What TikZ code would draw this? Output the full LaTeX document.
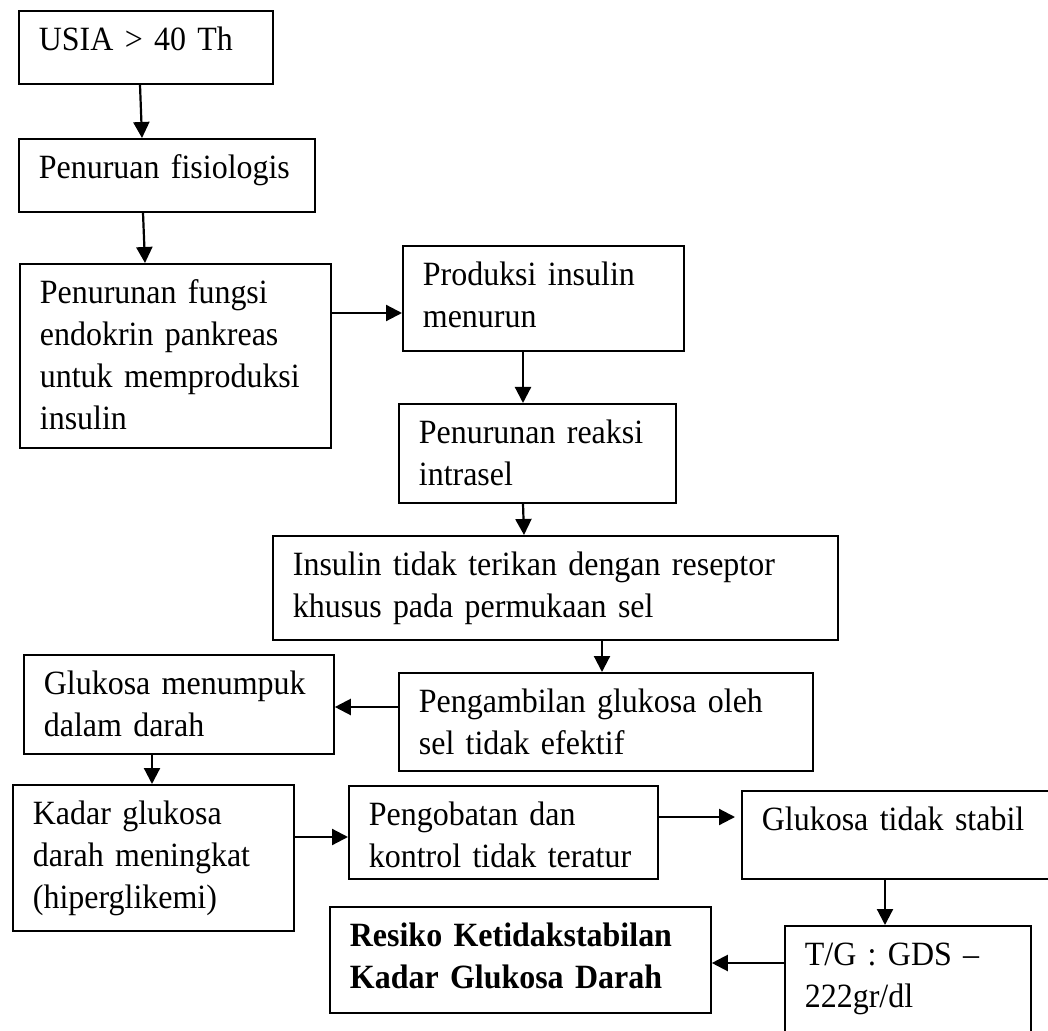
\documentclass[tikz,border=0pt]{standalone}
\usepackage{fontspec}
\setmainfont{Liberation Serif}[FakeStretch=0.94, WordSpace=0.8]
\usetikzlibrary{arrows.meta}

\begin{document}
\begin{tikzpicture}[
  x=0.5pt, y=-0.5pt,
  kotak/.style={rectangle, draw=black, line width=0.9pt, anchor=north west,
                align=left, inner xsep=10pt, inner ysep=0pt,
                text height=20pt, font=\fontsize{17}{21}\selectfont},
  panah/.style={-{Triangle[length=8pt, width=8pt]}, line width=1.1pt}
]
\useasboundingbox (0,0) rectangle (1048,1031);
\clip (0,0) rectangle (1048,1031);

% Boxes
\node[kotak, text width=107pt, text depth=16.5pt] (usia) at (18,10) {USIA > 40 Th};
\node[kotak, text width=128pt, text depth=16.5pt] (fisio) at (18,138) {Penuruan fisiologis};
\node[kotak, text width=135.5pt, text depth=72pt] (fungsi) at (19,263)
  {Penurunan fungsi\\endokrin pankreas\\untuk memproduksi\\insulin};
\node[kotak, text width=120.5pt, text depth=32.5pt] (produksi) at (402,245)
  {Produksi insulin\\menurun};
\node[kotak, text width=118.5pt, text depth=29.5pt] (reaksi) at (398,403)
  {Penurunan reaksi\\intrasel};
\node[kotak, text width=262.5pt, text depth=32pt] (insulin) at (272,535)
  {Insulin tidak terikan dengan reseptor\\khusus pada permukaan sel};
\node[kotak, text width=135pt, text depth=29.5pt] (menumpuk) at (23,654)
  {Glukosa menumpuk\\dalam darah};
\node[kotak, text width=187pt, text depth=29pt] (ambil) at (398,672)
  {Pengambilan glukosa oleh\\sel tidak efektif};
\node[kotak, text width=120.5pt, text depth=53pt] (kadar) at (12,784)
  {Kadar glukosa\\darah meningkat\\(hiperglikemi)};
\node[kotak, text width=134.5pt, text depth=26.5pt] (obat) at (348,785)
  {Pengobatan dan\\kontrol tidak teratur};
\node[kotak, text width=145pt, text depth=24pt] (stabil) at (741,790) {Glukosa tidak stabil};
\node[kotak, text width=170.5pt, text depth=33pt, font=\fontsize{17}{21}\selectfont\bfseries]
  (resiko) at (329,906) {Resiko Ketidakstabilan\\Kadar Glukosa Darah};
\node[kotak, text width=103pt, text depth=60pt] (tg) at (784,925) {T/G : GDS --\\222gr/dl};

% Arrows
\draw[panah] ([xshift=61pt]usia.south west) -- ([xshift=62pt]fisio.north west);
\draw[panah] ([xshift=62.5pt]fisio.south west) -- ([xshift=63pt]fungsi.north west);
\draw[panah] ([yshift=-25pt]fungsi.north east) -- ([yshift=-34pt]produksi.north west);
\draw[panah] ([xshift=60.5pt]produksi.south west) -- ([xshift=62.5pt]reaksi.north west);
\draw[panah] ([xshift=62.5pt]reaksi.south west) -- ([xshift=126pt]insulin.north west);
\draw[panah] ([xshift=165pt]insulin.south west) -- ([xshift=102pt]ambil.north west);
\draw[panah] ([yshift=-17.5pt]ambil.north west) -- ([yshift=-26.5pt]menumpuk.north east);
\draw[panah] ([xshift=64.5pt]menumpuk.south west) -- ([xshift=70pt]kadar.north west);
\draw[panah] ([yshift=-26.5pt]kadar.north east) -- ([yshift=-26pt]obat.north west);
\draw[panah, shorten >=3pt] ([yshift=-16pt]obat.north east) -- ([yshift=-13.5pt]stabil.north west);
\draw[panah] ([xshift=72pt]stabil.south west) -- ([xshift=50.5pt]tg.north west);
\draw[panah] ([yshift=-19pt]tg.north west) -- ([yshift=-28.5pt]resiko.north east);
\end{tikzpicture}
\end{document}
